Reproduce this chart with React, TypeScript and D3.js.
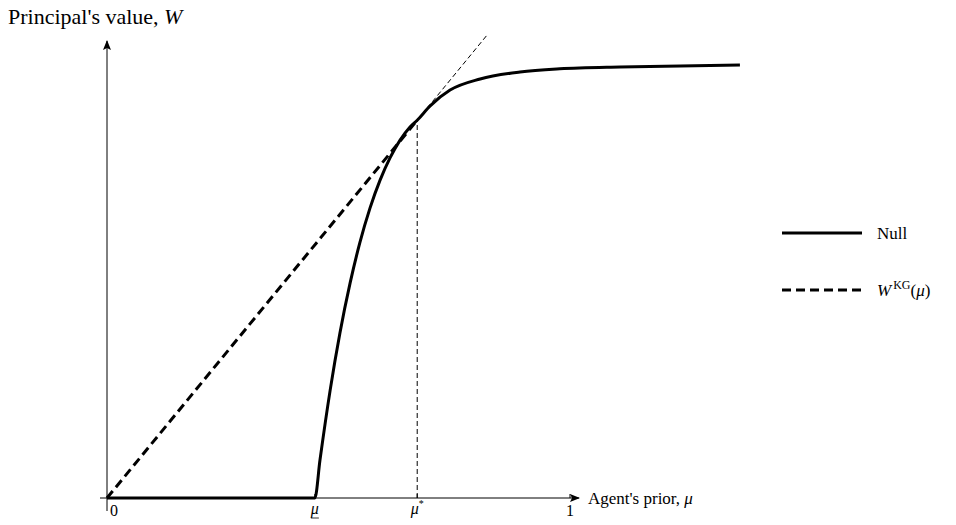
import * as d3 from "d3";

const FONT = "'Liberation Serif', 'Times New Roman', serif";

// agent's prior (mu) and principal's value (W) along the Null curve
const nullMu = [0, 0.449, 0.46, 0.482, 0.503, 0.525, 0.546, 0.568, 0.59, 0.611, 0.633, 0.654, 0.67, 0.698, 0.741, 0.806, 0.892, 0.978, 1.108, 1.238, 1.367];
const nullW = [0, 0, 0.082, 0.233, 0.356, 0.464, 0.551, 0.626, 0.687, 0.734, 0.773, 0.801, 0.816, 0.847, 0.881, 0.905, 0.92, 0.927, 0.931, 0.933, 0.935];

// W^KG(mu): straight line through the origin, tangent at mu*
const kgMu = [0, 0.67];
const kgW = [0, 0.816];
const kgExtMu = [0.67, 0.821];
const kgExtW = [0.816, 1.0];

const muLow = 0.449;
const muStar = 0.67;
const wStar = 0.816;

const legendItems = ["Null", "W^KG"];

export default function App() {
  const width = 956;
  const height = 525;

  const x = d3.scaleLinear().domain([0, 1]).range([107, 570]);
  const y = d3.scaleLinear().domain([0, 1]).range([498, 35]);

  const line = d3
    .line<[number, number]>()
    .x((d) => x(d[0]))
    .y((d) => y(d[1]))
    .curve(d3.curveMonotoneX);
  const straight = d3
    .line<[number, number]>()
    .x((d) => x(d[0]))
    .y((d) => y(d[1]));

  const nullPts = nullMu.map((m, i) => [m, nullW[i]] as [number, number]);
  const kgPts = kgMu.map((m, i) => [m, kgW[i]] as [number, number]);
  const kgExtPts = kgExtMu.map((m, i) => [m, kgExtW[i]] as [number, number]);

  const x0 = x(0);
  const y0 = y(0);

  return (
    <svg
      width={width}
      height={height}
      style={{ position: "absolute", left: 0, top: 0, background: "#fff" }}
      fontFamily={FONT}
    >
      <defs>
        <marker
          id="arrow"
          viewBox="0 0 10 10"
          refX="9"
          refY="5"
          markerWidth="10"
          markerHeight="10"
          markerUnits="userSpaceOnUse"
          orient="auto"
        >
          <path d="M0,1 L10,5 L0,9 L2,5 Z" fill="#000" />
        </marker>
      </defs>

      {/* axes */}
      <line x1={x0} y1={y0 + 13} x2={x0} y2={41} stroke="#000" strokeWidth={1} markerEnd="url(#arrow)" />
      <line x1={x0 - 7} y1={y0} x2={579} y2={y0} stroke="#000" strokeWidth={1} markerEnd="url(#arrow)" />

      {/* ticks */}
      {[muLow, muStar, 1].map((t) => (
        <line key={t} x1={x(t)} x2={x(t)} y1={y0} y2={y0 - 4} stroke="#000" strokeWidth={1} />
      ))}

      {/* mu* guide */}
      <line
        x1={x(muStar)}
        x2={x(muStar)}
        y1={y0}
        y2={y(wStar)}
        stroke="#000"
        strokeWidth={1}
        strokeDasharray="5,3"
      />

      {/* W^KG */}
      <path d={straight(kgExtPts) ?? ""} fill="none" stroke="#000" strokeWidth={1} strokeDasharray="5,3" />
      <path d={straight(kgPts) ?? ""} fill="none" stroke="#000" strokeWidth={3} strokeDasharray="9,5" />

      {/* Null */}
      <path d={line(nullPts) ?? ""} fill="none" stroke="#000" strokeWidth={3} strokeLinejoin="round" />

      {/* tick labels */}
      <text x={x0 + 7} y={y0 + 18} fontSize={16} textAnchor="middle">0</text>
      <text x={x(muLow)} y={y0 + 16} fontSize={16} textAnchor="middle" fontStyle="italic">μ</text>
      <line x1={x(muLow) - 4} x2={x(muLow) + 4} y1={y0 + 20} y2={y0 + 20} stroke="#000" strokeWidth={0.8} />
      <text x={x(muStar)} y={y0 + 16} fontSize={16} textAnchor="middle">
        <tspan fontStyle="italic">μ</tspan>
        <tspan fontSize={10} dy={-7}>*</tspan>
      </text>
      <text x={x(1)} y={y0 + 18} fontSize={16} textAnchor="middle">1</text>

      {/* axis titles */}
      <text x={8} y={24} fontSize={22}>
        Principal's value, <tspan fontStyle="italic">W</tspan>
      </text>
      <text x={588} y={y0 + 6} fontSize={17}>
        Agent's prior, <tspan fontStyle="italic">μ</tspan>
      </text>

      {/* legend */}
      {legendItems.map((item, i) => {
        const ly = 233 + i * 57;
        return (
          <g key={item}>
            <line
              x1={782}
              x2={862}
              y1={ly}
              y2={ly}
              stroke="#000"
              strokeWidth={3}
              strokeDasharray={i === 1 ? "9,5" : undefined}
            />
            {i === 0 ? (
              <text x={877} y={ly + 6} fontSize={17}>Null</text>
            ) : (
              <text x={877} y={ly + 6} fontSize={17}>
                <tspan fontStyle="italic">W</tspan>
                <tspan fontSize={12} dx={2} dy={-7}>KG</tspan>
                <tspan dy={7}>(</tspan>
                <tspan fontStyle="italic">μ</tspan>
                <tspan>)</tspan>
              </text>
            )}
          </g>
        );
      })}
    </svg>
  );
}
